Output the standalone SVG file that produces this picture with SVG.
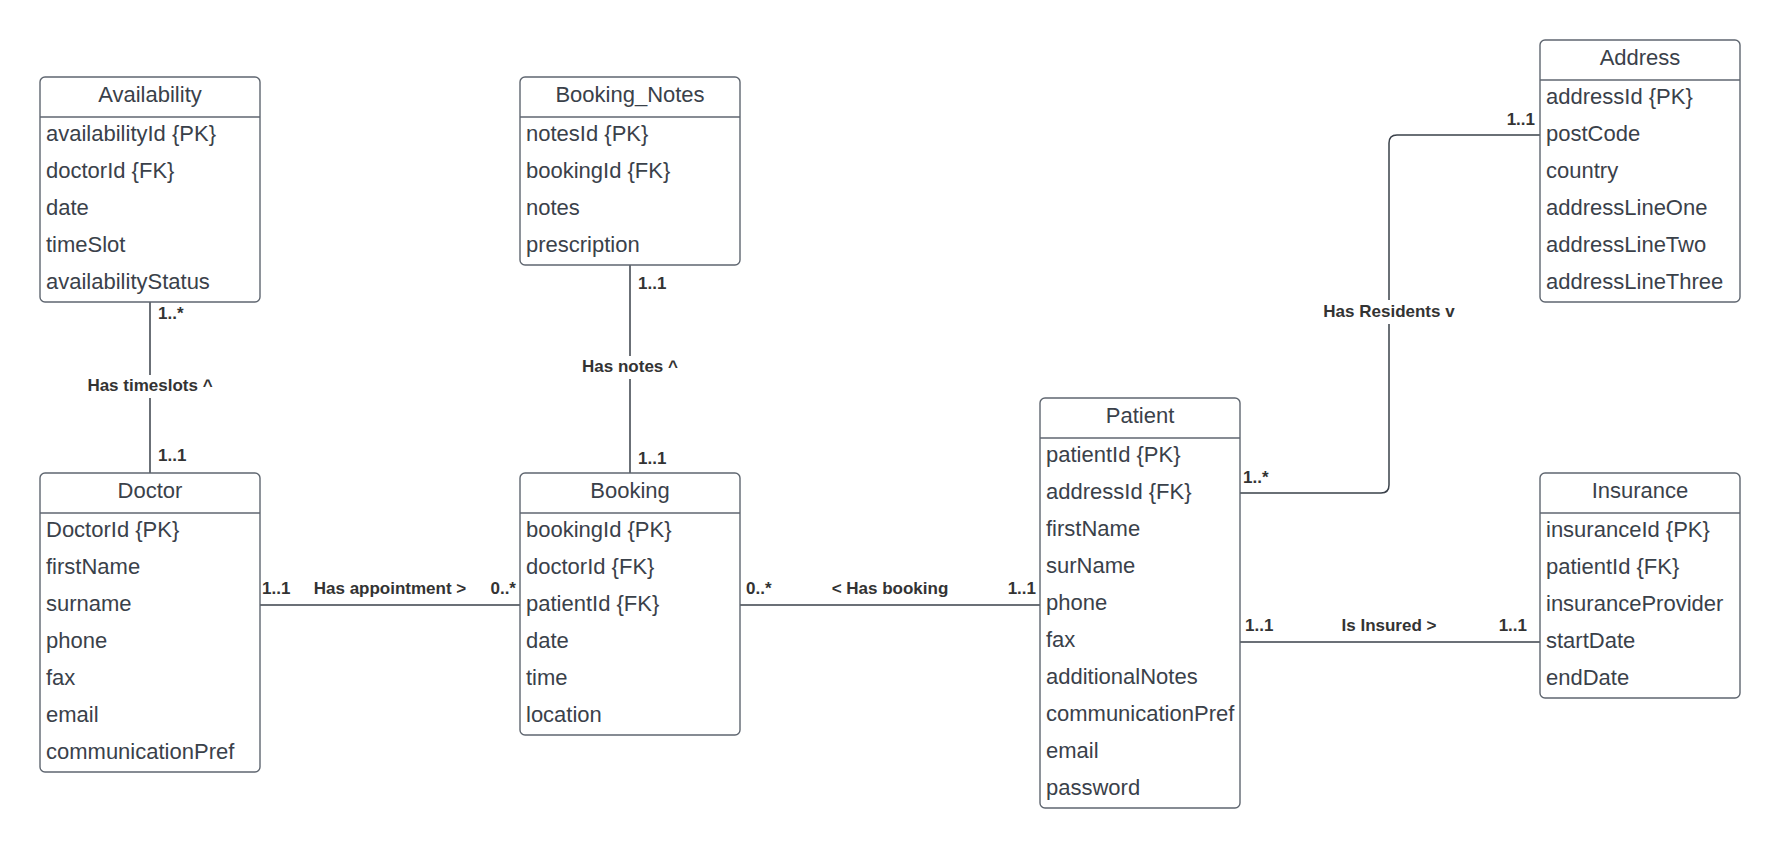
<svg xmlns="http://www.w3.org/2000/svg" width="1780" height="849" viewBox="0 0 1780 849">
<style>
.box{fill:#fff;stroke:#5f6670;stroke-width:1.4}
.div{stroke:#5f6670;stroke-width:1.4}
.title{font-family:"Liberation Sans",Arial,sans-serif;font-size:22px;fill:#3a414a;text-anchor:middle}
.attr{font-family:"Liberation Sans",Arial,sans-serif;font-size:22px;fill:#3a414a}
.conn{fill:none;stroke:#3a414a;stroke-width:1.5}
.lbl{font-family:"Liberation Sans",Arial,sans-serif;font-size:17px;font-weight:bold;fill:#333}
.mid{text-anchor:middle}
.end{text-anchor:end}
.bg{fill:#fff}
</style>
<rect width="1780" height="849" fill="#fff"/>

<g id="connectors">
  <line class="conn" x1="150" y1="302" x2="150" y2="473"/>
  <rect class="bg" x="80" y="375" width="140" height="23"/>
  <text class="lbl mid" x="150" y="391">Has timeslots ^</text>
  <text class="lbl" x="158" y="319">1..*</text>
  <text class="lbl" x="158" y="461">1..1</text>

  <line class="conn" x1="630" y1="265" x2="630" y2="473"/>
  <rect class="bg" x="575" y="356" width="110" height="23"/>
  <text class="lbl mid" x="630" y="372">Has notes ^</text>
  <text class="lbl" x="638" y="289">1..1</text>
  <text class="lbl" x="638" y="464">1..1</text>

  <line class="conn" x1="260" y1="605" x2="520" y2="605"/>
  <text class="lbl" x="262" y="594">1..1</text>
  <text class="lbl mid" x="390" y="594">Has appointment &gt;</text>
  <text class="lbl end" x="516" y="594">0..*</text>

  <line class="conn" x1="740" y1="605" x2="1040" y2="605"/>
  <text class="lbl" x="746" y="594">0..*</text>
  <text class="lbl mid" x="890" y="594">&lt; Has booking</text>
  <text class="lbl end" x="1036" y="594">1..1</text>

  <line class="conn" x1="1240" y1="642" x2="1540" y2="642"/>
  <text class="lbl" x="1245" y="631">1..1</text>
  <text class="lbl mid" x="1389" y="631">Is Insured &gt;</text>
  <text class="lbl end" x="1527" y="631">1..1</text>

  <path class="conn" d="M1240,493 H1381 Q1389,493 1389,485 V143 Q1389,135 1397,135 H1540"/>
  <rect class="bg" x="1318" y="300" width="142" height="24"/>
  <text class="lbl mid" x="1389" y="317">Has Residents v</text>
  <text class="lbl" x="1243" y="483">1..*</text>
  <text class="lbl end" x="1535" y="125">1..1</text>
</g>

<g id="availability">
  <rect class="box" x="40" y="77" width="220" height="225" rx="5"/>
  <line class="div" x1="40" y1="117" x2="260" y2="117"/>
  <text class="title" x="150" y="102">Availability</text>
  <text class="attr" x="46" y="141">availabilityId {PK}</text>
  <text class="attr" x="46" y="178">doctorId {FK}</text>
  <text class="attr" x="46" y="215">date</text>
  <text class="attr" x="46" y="252">timeSlot</text>
  <text class="attr" x="46" y="289">availabilityStatus</text>
</g>

<g id="booking_notes">
  <rect class="box" x="520" y="77" width="220" height="188" rx="5"/>
  <line class="div" x1="520" y1="117" x2="740" y2="117"/>
  <text class="title" x="630" y="102">Booking_Notes</text>
  <text class="attr" x="526" y="141">notesId {PK}</text>
  <text class="attr" x="526" y="178">bookingId {FK}</text>
  <text class="attr" x="526" y="215">notes</text>
  <text class="attr" x="526" y="252">prescription</text>
</g>

<g id="doctor">
  <rect class="box" x="40" y="473" width="220" height="299" rx="5"/>
  <line class="div" x1="40" y1="513" x2="260" y2="513"/>
  <text class="title" x="150" y="498">Doctor</text>
  <text class="attr" x="46" y="537">DoctorId {PK}</text>
  <text class="attr" x="46" y="574">firstName</text>
  <text class="attr" x="46" y="611">surname</text>
  <text class="attr" x="46" y="648">phone</text>
  <text class="attr" x="46" y="685">fax</text>
  <text class="attr" x="46" y="722">email</text>
  <text class="attr" x="46" y="759">communicationPref</text>
</g>

<g id="booking">
  <rect class="box" x="520" y="473" width="220" height="262" rx="5"/>
  <line class="div" x1="520" y1="513" x2="740" y2="513"/>
  <text class="title" x="630" y="498">Booking</text>
  <text class="attr" x="526" y="537">bookingId {PK}</text>
  <text class="attr" x="526" y="574">doctorId {FK}</text>
  <text class="attr" x="526" y="611">patientId {FK}</text>
  <text class="attr" x="526" y="648">date</text>
  <text class="attr" x="526" y="685">time</text>
  <text class="attr" x="526" y="722">location</text>
</g>

<g id="patient">
  <rect class="box" x="1040" y="398" width="200" height="410" rx="5"/>
  <line class="div" x1="1040" y1="438" x2="1240" y2="438"/>
  <text class="title" x="1140" y="423">Patient</text>
  <text class="attr" x="1046" y="462">patientId {PK}</text>
  <text class="attr" x="1046" y="499">addressId {FK}</text>
  <text class="attr" x="1046" y="536">firstName</text>
  <text class="attr" x="1046" y="573">surName</text>
  <text class="attr" x="1046" y="610">phone</text>
  <text class="attr" x="1046" y="647">fax</text>
  <text class="attr" x="1046" y="684">additionalNotes</text>
  <text class="attr" x="1046" y="721">communicationPref</text>
  <text class="attr" x="1046" y="758">email</text>
  <text class="attr" x="1046" y="795">password</text>
</g>

<g id="address">
  <rect class="box" x="1540" y="40" width="200" height="262" rx="5"/>
  <line class="div" x1="1540" y1="80" x2="1740" y2="80"/>
  <text class="title" x="1640" y="65">Address</text>
  <text class="attr" x="1546" y="104">addressId {PK}</text>
  <text class="attr" x="1546" y="141">postCode</text>
  <text class="attr" x="1546" y="178">country</text>
  <text class="attr" x="1546" y="215">addressLineOne</text>
  <text class="attr" x="1546" y="252">addressLineTwo</text>
  <text class="attr" x="1546" y="289">addressLineThree</text>
</g>

<g id="insurance">
  <rect class="box" x="1540" y="473" width="200" height="225" rx="5"/>
  <line class="div" x1="1540" y1="513" x2="1740" y2="513"/>
  <text class="title" x="1640" y="498">Insurance</text>
  <text class="attr" x="1546" y="537">insuranceId {PK}</text>
  <text class="attr" x="1546" y="574">patientId {FK}</text>
  <text class="attr" x="1546" y="611">insuranceProvider</text>
  <text class="attr" x="1546" y="648">startDate</text>
  <text class="attr" x="1546" y="685">endDate</text>
</g>
</svg>
